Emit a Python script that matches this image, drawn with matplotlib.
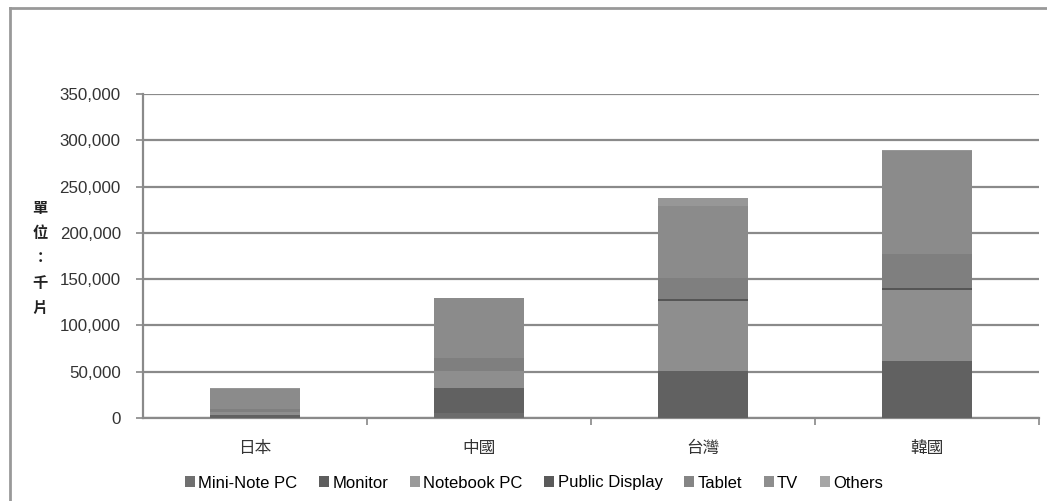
import matplotlib.pyplot as plt
import numpy as np
from matplotlib.lines import Line2D
from matplotlib.patches import Patch

plt.rcParams['font.family'] = ['Liberation Sans', 'Noto Sans CJK TC', 'DejaVu Sans']

# countries and panel shipments per application (thousand pieces)
countries = ['日本', '中國', '台灣', '韓國']
series = ['Mini-Note PC', 'Monitor', 'Notebook PC', 'Public Display', 'Tablet', 'TV', 'Others']

mini_note = [0, 5000, 0, 0]
monitor = [3000, 27000, 51000, 61500]
notebook = [3000, 18500, 75500, 76500]
public_display = [0, 0, 2000, 2000]
tablet = [4000, 14000, 22500, 37500]
tv = [21000, 65000, 78000, 111000]
others = [1000, 0, 9000, 1000]

values = [mini_note, monitor, notebook, public_display, tablet, tv, others]
colors = ['#6c6c6c', '#616161', '#8e8e8e', '#555555', '#7f7f7f', '#8b8b8b', '#979797']
legend_colors = ['#707070', '#5e5e5e', '#9a9a9a', '#5a5a5a', '#858585', '#8e8e8e', '#a6a6a6']

fig = plt.figure(figsize=(10.47, 5.01), dpi=100)
ax = fig.add_axes([143/1047, 1-418/501, (1039-143)/1047, (418-94)/501])

x = np.arange(len(countries))
bottom = np.zeros(len(countries))
for vals, c in zip(values, colors):
    ax.bar(x, vals, width=0.4, bottom=bottom, color=c, edgecolor='none', zorder=3)
    bottom += np.array(vals)

ax.set_xlim(-0.5, 3.5)
ax.set_ylim(0, 350000)
ax.set_yticks(np.arange(0, 350001, 50000))
ax.set_yticklabels(['{:,}'.format(v) for v in range(0, 350001, 50000)], fontsize=12.2,
                   family=['Liberation Sans', 'DejaVu Sans'], color='#333333')
ax.yaxis.grid(True, color='#8a8a8a', linewidth=1.6, zorder=0)
ax.set_xticks(x)
ax.set_xticklabels(countries, family=['Noto Sans CJK TC'], fontsize=12, color='#333333')
ax.set_xticks(np.arange(0.5, 4, 1), minor=True)
ax.tick_params(axis='x', which='major', length=0, pad=16)
ax.tick_params(axis='x', which='minor', length=5, color='#888888', width=1.2)
ax.tick_params(axis='y', length=5, color='#888888', width=1.2, pad=11)

for s in ['top', 'right']:
    ax.spines[s].set_visible(False)
for s in ['left', 'bottom']:
    ax.spines[s].set_color('#8a8a8a')
    ax.spines[s].set_linewidth(1.6)

# vertical unit label
fig.text(40/1047, 1-258/501, '單\n位\n：\n千\n片', family=['Noto Sans CJK TC'], fontsize=11,
         fontweight='bold', ha='center', va='center', linespacing=1.7, color='#222222')

handles = [Patch(facecolor=c, edgecolor='none') for c in legend_colors]
fig.legend(handles, series, loc='center', bbox_to_anchor=(534/1047, 1-483/501), ncol=7,
           frameon=False, fontsize=12, handlelength=0.6, handleheight=0.6,
           handletextpad=0.2, columnspacing=1.3, borderpad=0)

# outer frame lines
fig.add_artist(Line2D([10/1047, 10/1047], [0, 1-8/501], color='#999999', linewidth=2))
fig.add_artist(Line2D([10/1047, 1], [1-8/501, 1-8/501], color='#999999', linewidth=2))

fig.savefig('out.png', dpi=100, facecolor='white')
